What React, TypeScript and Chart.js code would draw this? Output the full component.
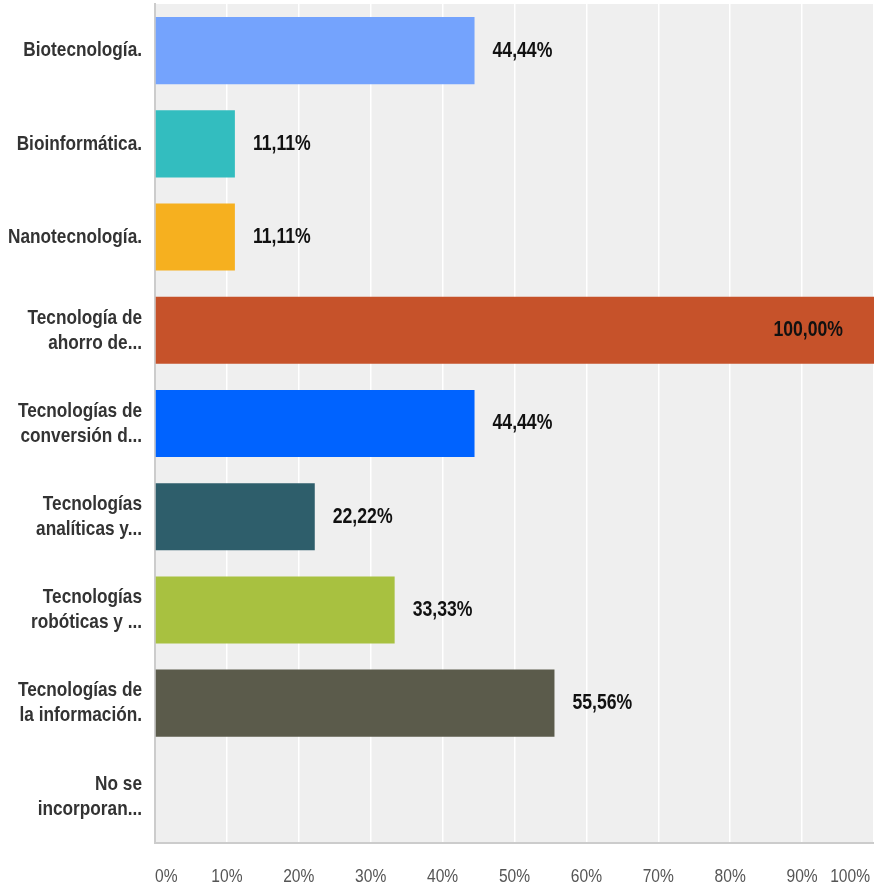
import React, { useEffect, useRef } from "react";
import { Chart, registerables } from "chart.js";

Chart.register(...registerables);

const categories: string[][] = [
  ["Biotecnología."],
  ["Bioinformática."],
  ["Nanotecnología."],
  ["Tecnología de", "ahorro de..."],
  ["Tecnologías de", "conversión d..."],
  ["Tecnologías", "analíticas y..."],
  ["Tecnologías", "robóticas y ..."],
  ["Tecnologías de", "la información."],
  ["No se", "incorporan..."],
];

const values: number[] = [44.44, 11.11, 11.11, 100, 44.44, 22.22, 33.33, 55.56, 0];

const barColors: string[] = [
  "#74a3fd",
  "#33bdbf",
  "#f6b01f",
  "#c6522a",
  "#0063ff",
  "#2e5e6b",
  "#a8c140",
  "#5b5b4b",
  "#999999",
];

const xTickValues: number[] = [0, 10, 20, 30, 40, 50, 60, 70, 80, 90, 100];

const FONT = "'Liberation Sans', Arial, sans-serif";
const NARROW = 0.82;

const fmt = (v: number) => v.toFixed(2).replace(".", ",") + "%";

function narrowText(ctx: any, text: string, x: number, y: number, align: string, font: string, color: string) {
  ctx.save();
  ctx.font = font;
  ctx.fillStyle = color;
  ctx.textBaseline = "middle";
  ctx.textAlign = align;
  ctx.translate(x, y);
  ctx.scale(NARROW, 1);
  ctx.fillText(text, 0, 0);
  ctx.restore();
}

function narrowWidth(ctx: any, text: string, font: string) {
  ctx.save();
  ctx.font = font;
  const w = ctx.measureText(text).width * NARROW;
  ctx.restore();
  return w;
}

const bgPlugin = {
  id: "plotBg",
  beforeDraw(chart: any) {
    const { ctx, chartArea } = chart;
    ctx.save();
    ctx.fillStyle = "#efefef";
    ctx.fillRect(chartArea.left, chartArea.top, chartArea.right - chartArea.left, chartArea.bottom - chartArea.top);
    ctx.restore();
  },
};

const labelPlugin = {
  id: "narrowLabels",
  afterDraw(chart: any) {
    const { ctx, chartArea } = chart;
    const yScale = chart.scales.y;
    const xScale = chart.scales.x;
    // category labels
    const yFont = `bold 21px ${FONT}`;
    categories.forEach((lines, i) => {
      const c = yScale.getPixelForTick(i);
      const lh = 25;
      const start = c - ((lines.length - 1) * lh) / 2;
      lines.forEach((ln, j) => {
        narrowText(ctx, ln, chartArea.left - 13, start + j * lh, "right", yFont, "#333");
      });
    });
    // x tick labels
    const xFont = `19px ${FONT}`;
    xTickValues.forEach((v) => {
      const t = v + "%";
      const w = narrowWidth(ctx, t, xFont);
      const cx = xScale.getPixelForValue(v);
      let left = cx - w / 2;
      if (left < chartArea.left) left = chartArea.left;
      if (left + w > chartArea.right - 4) left = chartArea.right - 4 - w;
      narrowText(ctx, t, left, chartArea.bottom + 34, "left", xFont, "#555");
    });
    // value labels
    const vFont = `bold 21.5px ${FONT}`;
    const meta = chart.getDatasetMeta(0);
    meta.data.forEach((bar: any, i: number) => {
      const v = values[i];
      if (!v) return;
      const text = fmt(v);
      const w = narrowWidth(ctx, text, vFont);
      const x = bar.x + 18;
      if (x + w > chartArea.right) {
        narrowText(ctx, text, chartArea.right - 31, bar.y, "right", vFont, "#111");
      } else {
        narrowText(ctx, text, x, bar.y, "left", vFont, "#111");
      }
    });
  },
};

export default function App() {
  const ref = useRef<HTMLCanvasElement | null>(null);
  useEffect(() => {
    if (!ref.current) return;
    const chart = new Chart(ref.current, {
      type: "bar",
      data: {
        labels: categories,
        datasets: [
          {
            data: values,
            backgroundColor: barColors,
            borderWidth: 0,
            barPercentage: 0.72,
            categoryPercentage: 1,
          },
        ],
      },
      options: {
        indexAxis: "y",
        animation: false,
        responsive: false,
        maintainAspectRatio: false,
        layout: { padding: { top: 4, right: 0, left: 0, bottom: 0 } },
        plugins: { legend: { display: false }, tooltip: { enabled: false } },
        scales: {
          x: {
            min: 0,
            max: 100,
            afterBuildTicks(scale: any) {
              scale.ticks = xTickValues.map((v) => ({ value: v }));
            },
            afterFit(scale: any) {
              scale.height = 45;
            },
            grid: { color: "#ffffff", lineWidth: 1.5, drawTicks: false },
            border: { display: true, color: "#cccccc", width: 2 },
            ticks: { display: false },
          },
          y: {
            afterFit(scale: any) {
              scale.width = 155;
            },
            grid: { display: false, drawTicks: false },
            border: { display: true, color: "#cccccc", width: 2 },
            ticks: { display: false },
          },
        },
      },
      plugins: [bgPlugin, labelPlugin],
    } as any);
    return () => chart.destroy();
  }, []);
  return (
    <div style={{ position: "fixed", left: 0, top: 0, width: 874, height: 888, background: "#fff" }}>
      <canvas ref={ref} width={874} height={888} style={{ width: 874, height: 888, display: "block" }} />
    </div>
  );
}
